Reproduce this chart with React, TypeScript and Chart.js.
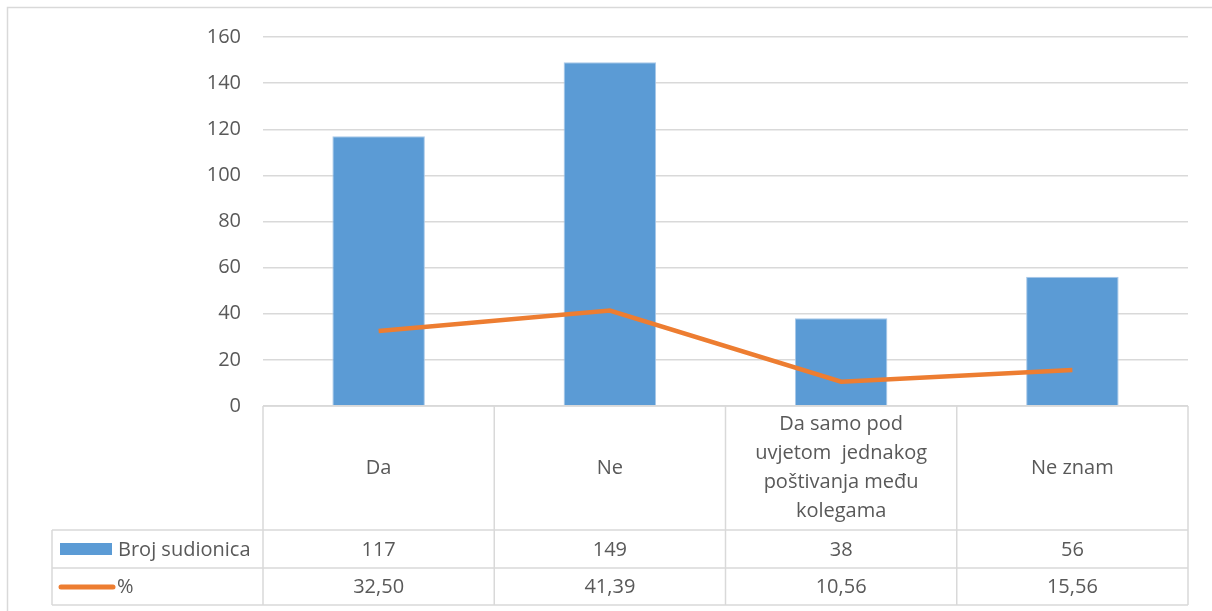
import React, { useEffect, useRef } from "react";
import { Chart, registerables } from "chart.js";

Chart.register(...registerables);

const categoryLines: string[][] = [
  ["Da"],
  ["Ne"],
  ["Da samo pod", "uvjetom  jednakog", "poštivanja među", "kolegama"],
  ["Ne znam"],
];
const counts = [117, 149, 38, 56];
const percents = [32.5, 41.39, 10.56, 15.56];
const countLabels = ["117", "149", "38", "56"];
const percentLabels = ["32,50", "41,39", "10,56", "15,56"];
const seriesNames = ["Broj sudionica", "%"];
const yMin = 0;
const yMax = 160;
const yStep = 20;

const BLUE = "#5b9bd5";
const ORANGE = "#ed7d31";
const GRID = "#d9d9d9";
const TEXT = "#595959";
const FONT = "'Open Sans', sans-serif";
const FS = 20;

const tablePlugin = {
  id: "dataTable",
  beforeDraw(chart: any) {
    const ctx = chart.ctx;
    ctx.save();
    ctx.strokeStyle = GRID;
    ctx.lineWidth = 1.5;
    ctx.beginPath();
    ctx.moveTo(7.5, chart.height + 5);
    ctx.lineTo(7.5, 7.5);
    ctx.lineTo(chart.width + 5, 7.5);
    ctx.stroke();
    ctx.restore();
  },
  afterDraw(chart: any) {
    const ctx = chart.ctx;
    const area = chart.chartArea;
    const n = categoryLines.length;
    const colW = (area.right - area.left) / n;
    const top = area.bottom;
    const row1 = 530;
    const row2 = 568;
    const row3 = 605;
    const legendLeft = 52;
    ctx.save();
    ctx.strokeStyle = GRID;
    ctx.lineWidth = 1.5;
    ctx.beginPath();
    ctx.moveTo(area.left, top);
    ctx.lineTo(area.right, top);
    for (const y of [row1, row2, row3]) {
      ctx.moveTo(legendLeft, y);
      ctx.lineTo(area.right, y);
    }
    for (let i = 0; i <= n; i++) {
      const x = area.left + i * colW;
      ctx.moveTo(x, top);
      ctx.lineTo(x, row3);
    }
    ctx.moveTo(legendLeft, row1);
    ctx.lineTo(legendLeft, row3);
    ctx.stroke();

    ctx.fillStyle = TEXT;
    ctx.font = `${FS}px ${FONT}`;
    ctx.textAlign = "center";
    ctx.textBaseline = "middle";
    const xs = chart.scales.x;
    const lh = 29;
    for (let i = 0; i < n; i++) {
      const cx = xs.getPixelForValue(i);
      const lines = categoryLines[i];
      const mid = (top + row1) / 2;
      lines.forEach((l, k) => {
        ctx.fillText(l, cx, mid + (k - (lines.length - 1) / 2) * lh);
      });
      ctx.fillText(countLabels[i], cx, (row1 + row2) / 2 + 1);
      ctx.fillText(percentLabels[i], cx, (row2 + row3) / 2 + 1);
    }
    ctx.textAlign = "left";
    ctx.fillText(seriesNames[0], 118, (row1 + row2) / 2 + 1);
    ctx.fillText(seriesNames[1], 117, (row2 + row3) / 2 + 1);

    ctx.fillStyle = BLUE;
    ctx.fillRect(60, 543, 52, 12);
    ctx.strokeStyle = ORANGE;
    ctx.lineWidth = 5;
    ctx.lineCap = "round";
    ctx.beginPath();
    ctx.moveTo(61, 587);
    ctx.lineTo(113, 587);
    ctx.stroke();
    ctx.restore();
  },
};

export default function App() {
  const ref = useRef<HTMLCanvasElement | null>(null);
  useEffect(() => {
    document.body.style.margin = "0";
    if (!ref.current) return;
    const chart = new Chart(ref.current, {
      type: "bar",
      data: {
        labels: categoryLines.map((l) => l.join(" ")),
        datasets: [
          {
            type: "line",
            label: seriesNames[1],
            data: percents,
            borderColor: ORANGE,
            backgroundColor: ORANGE,
            borderWidth: 4.5,
            pointRadius: 0,
            tension: 0,
            order: 0,
          } as any,
          {
            type: "bar",
            label: seriesNames[0],
            data: counts,
            backgroundColor: BLUE,
            borderColor: "#a9c8e8",
            borderWidth: 1,
            categoryPercentage: 0.4,
            barPercentage: 1,
            order: 1,
          } as any,
        ],
      },
      options: {
        animation: false,
        responsive: false,
        maintainAspectRatio: false,
        layout: { padding: { top: 37, bottom: 205, right: 24, left: 0 } },
        plugins: { legend: { display: false }, tooltip: { enabled: false }, title: { display: false } },
        scales: {
          x: { display: false },
          y: {
            min: yMin,
            max: yMax,
            ticks: { stepSize: yStep, color: TEXT, padding: 22, font: { family: FONT, size: FS } },
            grid: { color: GRID, lineWidth: 1.5, drawTicks: false },
            border: { display: false },
            afterFit: (s: any) => {
              s.width = 263;
            },
          },
        },
      },
      plugins: [tablePlugin],
    });
    return () => chart.destroy();
  }, []);
  return (
    <div style={{ width: 1212, height: 611 }}>
      <canvas ref={ref} width={1212} height={611} style={{ display: "block" }} />
    </div>
  );
}
